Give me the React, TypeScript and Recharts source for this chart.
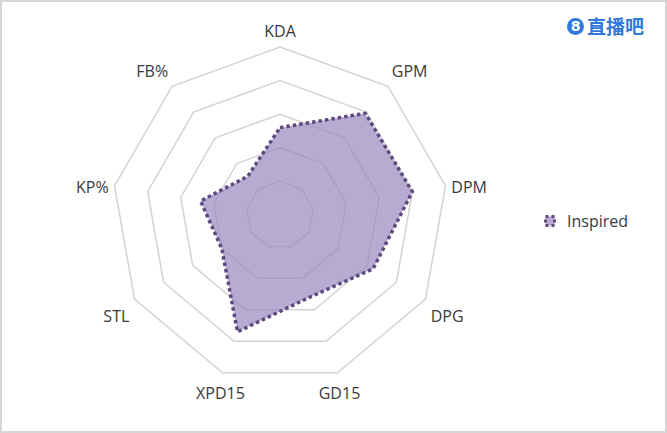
import React from "react";
import { RadarChart, Radar, PolarGrid, PolarAngleAxis, PolarRadiusAxis, Legend } from "recharts";

// axis order, clockwise from the top
const metrics = ["KDA", "GPM", "DPM", "DPG", "GD15", "XPD15", "STL", "KP%", "FB%"];
// Inspired's scores (scale 0-100, rings every 20)
const inspired = [52, 79, 80, 64, 52, 74, 40, 48, 30];
const ringTicks = [0, 20, 40, 60, 80, 100];

const chartData = metrics.map((m, i) => ({ metric: m, Inspired: inspired[i] }));

const CX = 280;
const CY = 215;
const R = 168;
const FONT = "'Open Sans', 'Noto Sans', sans-serif";
const TEXT = "#3a3a3a";

// Excel puts the labels a bit outside the last ring, pushed away from the centre
const AngleTick = (props: any) => {
  const { x, y, payload } = props;
  const dx = x - CX;
  const dy = y - CY;
  const len = Math.hypot(dx, dy) || 1;
  const ux = dx / len;
  const uy = dy / len;
  const d = 174;
  const px = CX + ux * d;
  let py = CY + uy * d;
  let anchor = "middle";
  if (ux > 0.4) anchor = "start";
  else if (ux < -0.4) anchor = "end";
  if (uy < -0.4) py -= 10.5;
  else if (uy > 0.4) py += 14;
  else py += 2;
  return (
    <text
      x={px}
      y={py}
      textAnchor={anchor}
      dominantBaseline="central"
      fontFamily={FONT}
      fontSize={16}
      fill={TEXT}
    >
      {payload.value}
    </text>
  );
};

const LegendContent = () => (
  <div style={{ display: "flex", alignItems: "center", fontFamily: FONT, fontSize: 16, color: TEXT }}>
    <svg width={12} height={12} style={{ marginRight: 11 }}>
      <rect x={1.5} y={1.5} width={9} height={9} fill="#b9a9d2" stroke="#604a7b" strokeWidth={3} strokeDasharray="3 3" />
    </svg>
    <span>Inspired</span>
  </div>
);

const Logo = () => (
  <div
    style={{
      position: "absolute",
      left: 567,
      top: 16,
      display: "flex",
      alignItems: "center",
      color: "#2f78dc",
      fontFamily: "'Noto Sans CJK SC', sans-serif",
      fontWeight: 700,
    }}
  >
    <div
      style={{
        width: 17,
        height: 17,
        borderRadius: "50%",
        background: "#2f78dc",
        color: "#fff",
        fontSize: 14,
        fontWeight: 700,
        lineHeight: "17px",
        textAlign: "center",
        fontFamily: "'DejaVu Sans', sans-serif",
        marginRight: 3,
      }}
    >
      8
    </div>
    <span style={{ fontSize: 19, lineHeight: "20px", letterSpacing: 0 }}>直播吧</span>
  </div>
);

export default function App() {
  return (
    <div style={{ position: "absolute", left: 0, top: 0, width: 667, height: 433, background: "#fff" }}>
      <RadarChart
        width={667}
        height={433}
        data={chartData}
        cx={CX}
        cy={CY}
        outerRadius={R}
        margin={{ top: 0, right: 0, bottom: 0, left: 0 }}
      >
        <PolarGrid gridType="polygon" radialLines={false} stroke="#d3d3d3" strokeWidth={1.5} />
        <PolarAngleAxis dataKey="metric" tick={<AngleTick />} tickLine={false} axisLine={false} />
        <PolarRadiusAxis domain={[0, 100]} ticks={ringTicks as any} tickCount={6} tick={false} axisLine={false} />
        <Radar
          dataKey="Inspired"
          name="Inspired"
          stroke="#5e4a7e"
          strokeWidth={3.5}
          strokeDasharray="3.5 3"
          fill="#9d8bc1"
          fillOpacity={0.72}
          isAnimationActive={false}
        />
        <Legend
          layout="vertical"
          align="right"
          verticalAlign="middle"
          content={<LegendContent />}
          wrapperStyle={{ left: 544, top: 210, right: "auto", width: 110 }}
        />
      </RadarChart>
      <Logo />
      <div
        style={{
          position: "absolute",
          inset: 0,
          border: "2px solid #d6d6d6",
          pointerEvents: "none",
        }}
      />
    </div>
  );
}
